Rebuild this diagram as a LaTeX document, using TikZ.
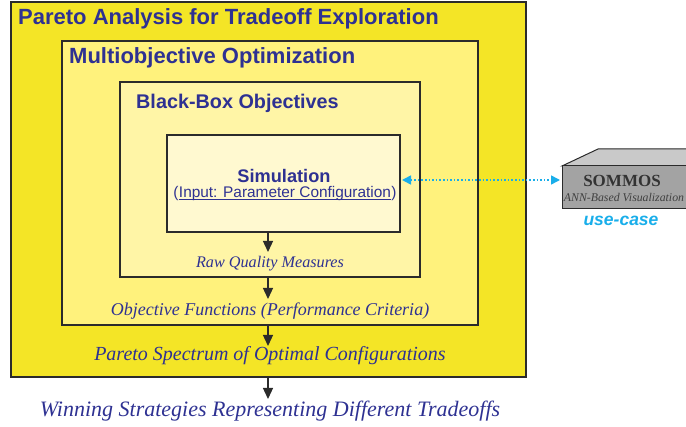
\documentclass[tikz,border=0pt]{standalone}
\usepackage{fontspec}
\setmainfont{Liberation Serif}
\setsansfont{Liberation Sans}
\usetikzlibrary{arrows.meta}
\definecolor{ink}{HTML}{2E3192}
\definecolor{lvlA}{HTML}{F4E526}
\definecolor{lvlB}{HTML}{FFF27C}
\definecolor{lvlC}{HTML}{FFF5A6}
\definecolor{lvlD}{HTML}{FFF9D0}
\definecolor{frame}{HTML}{2B2B2B}
\definecolor{link}{HTML}{19AEEA}
\definecolor{boxfront}{HTML}{A3A3A3}
\definecolor{boxtop}{HTML}{C9C9C9}
\tikzset{
  x=1pt, y=-1pt,
  level/.style={draw=frame, line width=1.4pt},
  heading/.style={anchor=west, text=ink, font=\sffamily\bfseries, inner sep=0pt},
  flowtext/.style={text=ink, font=\itshape, inner sep=0pt},
  flow/.style={draw=frame, line width=1.3pt, -{Triangle[length=11pt,width=10pt]}},
}
\begin{document}
\begin{tikzpicture}
\useasboundingbox (0,0) rectangle (686,427);

% nested levels
\filldraw[level, fill=lvlA] (11,2) rectangle (526,377);
\filldraw[level, fill=lvlB] (62,41) rectangle (478,325);
\filldraw[level, fill=lvlC] (120,82) rectangle (420,277);
\filldraw[level, fill=lvlD] (167,135) rectangle (400,232);

\node[heading, font=\sffamily\bfseries\fontsize{22}{24}\selectfont] (tPareto) at (18,19) {Pareto Analysis for Tradeoff Exploration};
\node[heading, font=\sffamily\bfseries\fontsize{22}{24}\selectfont] (tMulti) at (69,58) {Multiobjective Optimization};
\node[heading, font=\sffamily\bfseries\fontsize{19.8}{22}\selectfont] (tBlack) at (136,103) {Black-Box Objectives};

\node[text=ink, font=\sffamily\bfseries\fontsize{18.2}{20}\selectfont, inner sep=0pt] (sim) at (284,176) {Simulation};
\node[text=ink, font=\sffamily\fontsize{15.4}{18}\selectfont, inner sep=0pt] (simin) at (285,194) {Input: Parameter Configuration};
\node[text=ink, font=\sffamily\fontsize{15.4}{18}\selectfont, inner sep=0pt, anchor=base east] (po) at (simin.base west) {(};
\node[text=ink, font=\sffamily\fontsize{15.4}{18}\selectfont, inner sep=0pt, anchor=base west] (pc) at (simin.base east) {)};
\draw[ink, line width=0.9pt] ([yshift=-1.8pt]simin.base west) -- ([yshift=-1.8pt]simin.base east);
\coordinate (simR) at (402,180);

% flow down through the levels
\coordinate (a1) at (268,232);
\node[flowtext, font=\itshape\fontsize{16.2}{18}\selectfont] (raw) at (270,264) {Raw Quality Measures};
\coordinate (a2) at (268,277);
\node[flowtext, font=\itshape\fontsize{18}{20}\selectfont] (obj) at (270,311) {Objective Functions (Performance Criteria)};
\coordinate (a3) at (268,325);
\node[flowtext, font=\itshape\fontsize{20}{22}\selectfont] (spec) at (270,356) {Pareto Spectrum of Optimal Configurations};
\coordinate (a4) at (268,377);
\node[flowtext, font=\itshape\fontsize{22}{24}\selectfont] (win) at (270,411) {Winning Strategies Representing Different Tradeoffs};

\draw[flow] (a1) -- (268,252);
\draw[flow] (a2) -- (268,299);
\draw[flow] (a3) -- (268,346);
\draw[flow] (a4) -- (268,399);

% SOMMOS block
\filldraw[draw=frame, line width=1pt, fill=boxtop] (562,166) -- (598,149) -- (690,149) -- (690,166) -- cycle;
\filldraw[draw=frame, line width=1pt, fill=boxfront] (562,166) rectangle (690,209);
\node[text=black!80, font=\bfseries\fontsize{17}{19}\selectfont, inner sep=0pt] (sommos) at (622,181) {SOMMOS};
\node[text=black!75, font=\itshape\fontsize{11.8}{13}\selectfont, inner sep=0pt] (ann) at (624,197) {ANN-Based Visualization};
\node[text=link, font=\sffamily\bfseries\itshape\fontsize{17.5}{19}\selectfont, inner sep=0pt] (use) at (621,221) {use-case};
\coordinate (sommosL) at (560,180);

\draw[link, line width=1.6pt, dotted, {Triangle[length=9pt,width=9pt]}-{Triangle[length=9pt,width=9pt]}] (simR) -- (sommosL);
\end{tikzpicture}
\end{document}
